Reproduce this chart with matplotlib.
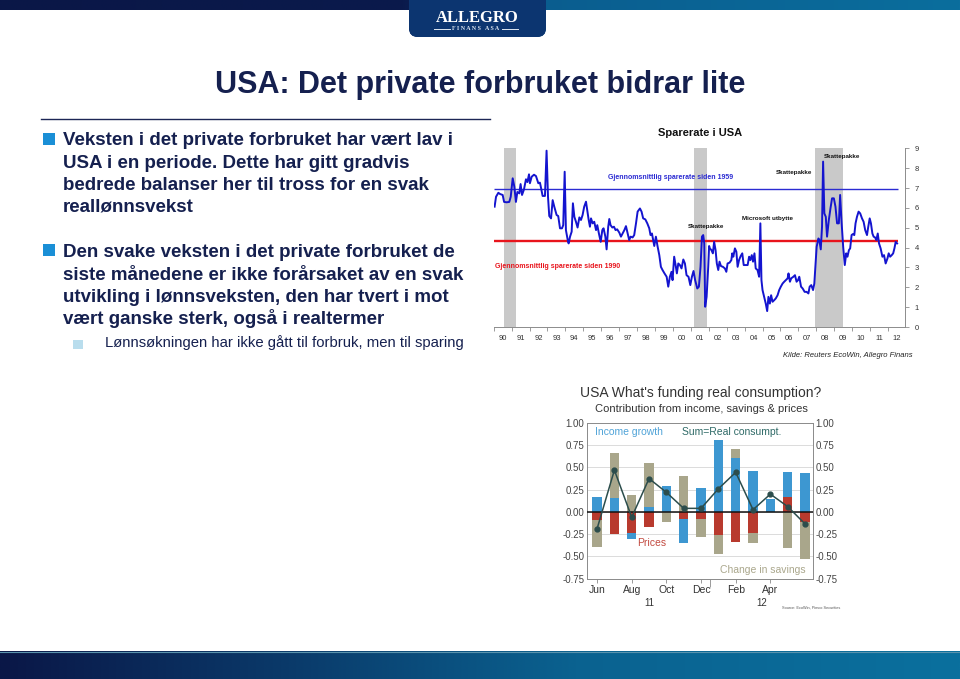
import numpy as np
import matplotlib.pyplot as plt
from matplotlib.patches import Rectangle, FancyBboxPatch
from matplotlib.colors import LinearSegmentedColormap
from matplotlib.ticker import FixedLocator, NullFormatter

W, H = 960, 679

# ---- top chart: savings rate USA ----
saving_year = [
    1990.05, 1990.13, 1990.26, 1990.35, 1990.50, 1990.58, 1990.72, 1990.87, 1990.95,
    1991.06, 1991.15, 1991.24, 1991.32, 1991.43, 1991.50, 1991.58, 1991.69, 1991.80, 1991.88, 1991.97,
    1992.02, 1992.12, 1992.25, 1992.36, 1992.49, 1992.58, 1992.62, 1992.73, 1992.86, 1992.95,
    1993.03, 1993.10, 1993.20, 1993.29, 1993.38, 1993.51, 1993.60, 1993.70, 1993.81, 1993.88, 1993.96,
    1994.03, 1994.13, 1994.18, 1994.26, 1994.35, 1994.42, 1994.50, 1994.59, 1994.68, 1994.78, 1994.87, 1994.96,
    1995.05, 1995.15, 1995.22, 1995.30, 1995.37, 1995.43, 1995.52, 1995.61, 1995.71, 1995.78, 1995.87, 1995.97,
    1996.06, 1996.13, 1996.23, 1996.30, 1996.39, 1996.45, 1996.52, 1996.62, 1996.71, 1996.80, 1996.89,
    1997.01, 1997.10, 1997.19, 1997.29, 1997.38, 1997.45, 1997.56, 1997.64, 1997.75, 1997.84, 1997.94,
    1998.03, 1998.16, 1998.25, 1998.34, 1998.46, 1998.57, 1998.68, 1998.75, 1998.83, 1998.90, 1998.96,
    1999.05, 1999.14, 1999.24, 1999.33, 1999.42, 1999.53, 1999.65, 1999.74, 1999.83, 1999.92, 1999.98,
    2000.07, 2000.15, 2000.22, 2000.30, 2000.39, 2000.48, 2000.58, 2000.67, 2000.76, 2000.87, 2000.97,
    2001.06, 2001.15, 2001.24, 2001.36, 2001.45, 2001.54, 2001.62, 2001.69, 2001.75, 2001.80, 2001.88, 2001.97,
    2002.02, 2002.06, 2002.15, 2002.23, 2002.30, 2002.38, 2002.45, 2002.53, 2002.60, 2002.68, 2002.79, 2002.90, 2002.98,
    2003.05, 2003.16, 2003.26, 2003.31, 2003.37, 2003.46, 2003.54, 2003.61, 2003.69, 2003.78, 2003.87, 2003.95,
    2004.06, 2004.17, 2004.25, 2004.32, 2004.40, 2004.47, 2004.55, 2004.62, 2004.72, 2004.81, 2004.88, 2004.94,
    2005.00, 2005.09, 2005.18, 2005.26, 2005.33, 2005.41, 2005.48, 2005.56, 2005.65, 2005.74, 2005.84, 2005.93,
    2006.02, 2006.12, 2006.21, 2006.30, 2006.40, 2006.45, 2006.53, 2006.60, 2006.72, 2006.81, 2006.90, 2006.98,
    2007.05, 2007.15, 2007.24, 2007.35, 2007.46, 2007.56, 2007.63, 2007.72, 2007.82, 2007.89, 2007.95,
    2008.02, 2008.12, 2008.17, 2008.25, 2008.32, 2008.38, 2008.45, 2008.53, 2008.60, 2008.70, 2008.79, 2008.88, 2008.98,
    2009.07, 2009.16, 2009.26, 2009.33, 2009.41, 2009.50, 2009.59, 2009.67, 2009.74, 2009.82, 2009.89, 2009.97,
    2010.04, 2010.12, 2010.19, 2010.27, 2010.36, 2010.45, 2010.55, 2010.64, 2010.73, 2010.83, 2010.90, 2010.98,
    2011.05, 2011.13, 2011.20, 2011.28, 2011.35, 2011.43, 2011.50, 2011.59, 2011.69, 2011.78, 2011.87, 2011.97,
    2012.04, 2012.12, 2012.21, 2012.29, 2012.36, 2012.43, 2012.51]
saving_rate = [
    6.06, 6.56, 6.76, 6.70, 6.65, 6.30, 6.28, 6.30, 6.56,
    7.49, 7.07, 6.30, 6.80, 6.73, 7.20, 6.65, 6.93, 7.44, 7.30, 7.69,
    7.24, 7.57, 7.67, 7.60, 7.24, 7.27, 7.10, 6.60, 6.60, 8.88,
    6.56, 5.59, 5.47, 6.39, 6.06, 5.64, 5.59, 4.97, 4.97, 5.13, 7.82,
    4.88, 4.38, 4.21, 4.55, 4.80, 6.23, 5.55, 5.30, 5.01, 5.52, 5.39, 5.64,
    6.06, 6.31, 5.89, 5.39, 5.05, 5.47, 5.22, 5.30, 4.88, 5.13, 4.71, 4.29,
    4.88, 4.97, 4.55, 3.91, 5.05, 5.44, 5.13, 5.01, 5.05, 4.88, 4.92,
    4.75, 4.55, 4.71, 4.88, 5.08, 4.80, 4.38, 4.55, 4.51, 4.63, 5.22,
    5.81, 5.97, 5.81, 5.47, 5.42, 5.22, 4.97, 4.63, 4.71, 4.38, 4.08,
    4.55, 4.08, 3.62, 3.03, 2.87, 2.70, 2.53, 2.03, 2.53, 2.78, 2.36,
    3.54, 3.12, 2.70, 3.20, 3.12, 2.95, 3.40, 3.20, 2.61, 2.53, 2.11,
    2.53, 2.82, 2.36, 1.94, 2.03, 3.03, 4.55, 4.63, 4.21, 1.02, 1.52, 3.03,
    4.08, 3.96, 3.87, 3.71, 4.29, 3.87, 3.20, 2.87, 3.29, 3.07, 3.03, 2.95, 2.78,
    3.20, 3.24, 3.37, 3.71, 3.54, 3.96, 3.79, 3.03, 3.37, 3.57, 3.71, 3.12,
    3.12, 3.12, 3.54, 3.37, 3.62, 3.29, 3.71, 2.95, 2.87, 2.53, 5.22, 2.36,
    1.86, 1.52, 1.18, 0.80, 1.52, 1.18, 1.60, 1.27, 1.35, 1.44, 1.60, 1.86,
    2.03, 2.19, 2.28, 2.36, 2.45, 2.70, 2.28, 2.45, 2.53, 2.61, 2.28, 2.36,
    2.53, 2.03, 1.94, 1.77, 1.77, 1.69, 2.03, 2.11, 1.86, 2.19, 3.03,
    4.04, 4.46, 4.38, 3.91, 5.05, 8.33, 5.72, 5.55, 4.55, 5.39, 5.97, 6.48, 6.48,
    6.06, 5.22, 5.22, 6.65, 5.30, 4.04, 3.12, 3.71, 3.54, 3.87, 3.96, 4.63,
    4.68, 4.63, 5.22, 5.55, 5.81, 5.72, 5.47, 5.30, 4.88, 4.63, 5.05, 5.47,
    5.22, 4.71, 4.55, 4.51, 4.38, 4.71, 4.21, 3.96, 3.54, 3.62, 3.20, 3.45,
    3.71, 3.54, 3.62, 3.71, 3.96, 4.29, 4.21]
avg_since_1959 = 6.95
avg_since_1990 = 4.35
recessions = [(1990.55, 1991.25), (2001.2, 2001.9), (2007.95, 2009.5)]
year_labels = ['90', '91', '92', '93', '94', '95', '96', '97', '98', '99', '00', '01',
               '02', '03', '04', '05', '06', '07', '08', '09', '10', '11', '12']
event_notes = [('Skattepakke', 2001.85, 5.08), ('Microsoft utbytte', 2005.3, 5.44),
               ('Skattepakke', 2006.77, 7.76), ('Skattepakke', 2009.42, 8.57)]

# ---- bottom chart: contributions to real consumption ----
months = ['Jun', 'Jul', 'Aug', 'Sep', 'Oct', 'Nov', 'Dec', 'Jan', 'Feb', 'Mar', 'Apr', 'May', 'Jun']
income = [0.165, 0.155, -0.06, 0.055, 0.29, -0.265, 0.27, 0.81, 0.605, 0.46, 0.145, 0.28, 0.44]
prices = [-0.096, -0.245, -0.24, -0.17, 0.0, -0.085, -0.077, -0.26, -0.335, -0.24, 0.0, 0.17, -0.115]
savings = [-0.30, 0.51, 0.195, 0.495, -0.115, 0.40, -0.205, -0.21, 0.105, -0.105, 0.0, -0.41, -0.41]
real_consumption = [-0.19, 0.47, -0.06, 0.375, 0.22, 0.04, 0.04, 0.26, 0.445, 0.025, 0.2, 0.06, -0.135]

bullet1 = ["Veksten i det private forbruket har vært lav i",
           "USA i en periode. Dette har gitt gradvis",
           "bedrede balanser her til tross for en svak",
           "reallønnsvekst"]
bullet2 = ["Den svake veksten i det private forbruket de",
           "siste månedene er ikke forårsaket av en svak",
           "utvikling i lønnsveksten, den har tvert i mot",
           "vært ganske sterk, også i realtermer"]
sub_bullet = "Lønnsøkningen har ikke gått til forbruk, men til sparing"

NAVY = '#15204f'

plt.rcParams['font.family'] = ['Liberation Sans', 'DejaVu Sans']


def rect(x0, y0, x1, y1):
    return [x0 / W, 1 - y1 / H, (x1 - x0) / W, (y1 - y0) / H]


def ftext(x, y, s, **kw):
    return fig.text(x / W, 1 - y / H, s, **kw)


def gradient(ax, stops):
    cmap = LinearSegmentedColormap.from_list('g', stops)
    return ax.imshow(np.linspace(0, 1, 512)[None, :], aspect='auto', cmap=cmap,
                     extent=[0, 1, 0, 1], interpolation='bicubic')


fig = plt.figure(figsize=(9.6, 6.79), dpi=100)

# header band
hb = fig.add_axes(rect(0, 0, W, 10))
hb.axis('off')
gradient(hb, [(0, '#0a1747'), (0.42, '#0a1a4c'), (0.56, '#0a5d8f'), (1, '#0b6e9d')])

# logo tab
lg = fig.add_axes(rect(400, 0, 555, 42), zorder=5)
lg.set_xlim(400, 555)
lg.set_ylim(42, 0)
lg.axis('off')
tab = FancyBboxPatch((409, -12), 137, 49, boxstyle='round,pad=0,rounding_size=9',
                     fc='#0c3570', ec='none')
lg.add_patch(tab)
im = lg.imshow(np.linspace(0, 1, 256)[None, :], aspect='auto',
               cmap=LinearSegmentedColormap.from_list('t', ['#0b2462', '#0c3f7c', '#0a5486']),
               extent=[409, 546, 37, -12], interpolation='bicubic')
im.set_clip_path(tab)
serif = ['Liberation Serif', 'DejaVu Serif']
lg.text(477, 22, 'ALLEGRO', color='white', fontsize=12, weight='bold', ha='center',
        va='baseline', family=serif)
lg.text(476, 30.5, 'F I N A N S   A S A', color='#dfe8f2', fontsize=4.3, ha='center',
        va='baseline', family=serif, weight='bold')
lg.plot([434, 450], [28.5, 28.5], color='#dfe8f2', lw=0.7)
lg.plot([502, 518], [28.5, 28.5], color='#dfe8f2', lw=0.7)

# footer band
fb = fig.add_axes(rect(0, 651, W, H))
fb.axis('off')
gradient(fb, [(0, '#0a1747'), (0.3, '#0a3a6a'), (0.6, '#0a6290'), (1, '#0b709e')])
fig.add_artist(plt.Line2D([0, 1], [1 - 651.5 / H] * 2, color='#5a93ad', lw=0.8))

# title and rule
ftext(480, 93, 'USA: Det private forbruket bidrar lite', fontsize=22, weight='bold',
      color=NAVY, ha='center', va='baseline')
fig.add_artist(plt.Line2D([41 / W, 490 / W], [1 - 119 / H] * 2, color='#1c2656', lw=1.0))

# bullets
for top, lines, bases in [(133, bullet1, [145, 167.5, 190, 212]),
                          (244, bullet2, [257, 279.5, 302, 324])]:
    fig.add_artist(Rectangle((43 / W, 1 - (top + 12) / H), 12 / W, 12 / H,
                             transform=fig.transFigure, fc='#1a8fd6', ec='none'))
    for s, b in zip(lines, bases):
        ftext(63, b, s, fontsize=13.5, weight='bold', color=NAVY, va='baseline')
fig.add_artist(Rectangle((73 / W, 1 - 349 / H), 10 / W, 9 / H,
                         transform=fig.transFigure, fc='#b9dded', ec='none'))
ftext(105, 347.5, sub_bullet, fontsize=10.7, color=NAVY, va='baseline')

# ---- top chart ----
ax1 = fig.add_axes(rect(493.7, 148.3, 905, 327))
ax1.set_xlim(1990, 2012.95)
ax1.set_ylim(0, 9)
for a, b in recessions:
    ax1.axvspan(a, b, color='#c9c9c9', lw=0, zorder=0)
ax1.hlines(avg_since_1959, 1990, 2012.55, color='#2b2bd2', lw=1.0, zorder=2)
ax1.hlines(avg_since_1990, 1990, 2012.55, color='#e8141c', lw=1.7, zorder=2)
ax1.plot(saving_year, saving_rate, color='#1414cf', lw=1.4, zorder=3)
for side in ['left', 'top']:
    ax1.spines[side].set_visible(False)
for side in ['right', 'bottom']:
    ax1.spines[side].set_color('#8c8c8c')
    ax1.spines[side].set_linewidth(0.7)
ax1.yaxis.tick_right()
ax1.set_yticks(range(10))
ax1.tick_params(axis='y', labelsize=5.5, length=3, width=0.6, color='#8c8c8c',
                labelcolor='#333333', pad=4)
ax1.xaxis.set_major_locator(FixedLocator(range(1990, 2013)))
ax1.xaxis.set_major_formatter(NullFormatter())
ax1.xaxis.set_minor_locator(FixedLocator([y + 0.5 for y in range(1990, 2013)]))
ax1.set_xticklabels(year_labels, minor=True)
ax1.tick_params(axis='x', which='major', length=3, width=0.6, color='#8c8c8c')
ax1.tick_params(axis='x', which='minor', length=0, labelsize=5.5, labelcolor='#333333', pad=6)
ax1.text(1999.85, 7.55, 'Gjennomsnittlig sparerate siden 1959', color='#2b2bd2',
         fontsize=5, weight='bold', ha='center', va='center')
ax1.text(1990.07, 3.07, 'Gjennomsnittlig sparerate siden 1990', color='#e8141c',
         fontsize=5, weight='bold', ha='left', va='center')
for s, x, y in event_notes:
    ax1.text(x, y, s, fontsize=4.5, weight='bold', color='#111111', ha='center', va='center')
ftext(700, 136, 'Sparerate i USA', fontsize=8, weight='bold', color='#111111', ha='center',
      va='baseline')
ftext(913, 357, 'Kilde: Reuters EcoWin, Allegro Finans', fontsize=5.5, style='italic',
      color='#222222', ha='right', va='baseline')

# ---- bottom chart ----
ax2 = fig.add_axes(rect(587, 423, 813, 578.6))
ax2.set_xlim(-0.58, 12.46)
ax2.set_ylim(-0.75, 1.0)
for v in np.arange(-0.5, 1.0, 0.25):
    ax2.axhline(v, color='#d6d6d6', lw=0.6, zorder=0)
x = np.arange(len(months))
pos_base = np.zeros(len(months))
neg_base = np.zeros(len(months))
for vals, col in [(prices, '#b83a2e'), (income, '#3d97d1'), (savings, '#a9a68b')]:
    vals = np.array(vals)
    base = np.where(vals >= 0, pos_base, neg_base)
    ax2.bar(x, vals, 0.55, bottom=base, color=col, lw=0, zorder=2)
    pos_base = pos_base + np.where(vals > 0, vals, 0)
    neg_base = neg_base + np.where(vals < 0, vals, 0)
ax2.axhline(0, color='#111111', lw=1.1, zorder=3)
ax2.plot(x, real_consumption, color='#2c4d4c', lw=1.1, marker='o', ms=3.5, zorder=4)
for sp in ax2.spines.values():
    sp.set_color('#8a8a8a')
    sp.set_linewidth(0.7)
yt = np.arange(-0.75, 1.01, 0.25)
ax2.set_yticks(yt)
ax2.set_yticklabels(['%.2f' % v for v in yt])
ax2.tick_params(axis='y', which='both', left=True, right=True, labelleft=True,
                labelright=True, labelsize=7, labelcolor='#444444', length=0, pad=2)
ax2.set_xticks(x[0:12:2])
ax2.set_xticklabels(months[0:12:2])
ax2.set_xticks([6.5], minor=True)
ax2.tick_params(axis='x', which='major', labelsize=7.5, labelcolor='#333333', length=3,
                width=0.6, color='#8a8a8a', pad=1.5)
ax2.tick_params(axis='x', which='minor', length=6, width=0.6, color='#8a8a8a')
ax2.text(3, -1.03, '11', fontsize=7, color='#333333', ha='center', va='center')
ax2.text(9.5, -1.03, '12', fontsize=7, color='#333333', ha='center', va='center')
ax2.text(-0.1, 0.9, 'Income growth', color='#4fa3d8', fontsize=7.5, va='center')
ax2.text(4.9, 0.9, 'Sum=Real consumpt.', color='#2f6a67', fontsize=7.5, va='center')
ax2.text(2.3, -0.35, 'Prices', color='#c24a40', fontsize=7.5, va='center')
ax2.text(7.1, -0.65, 'Change in savings', color='#aaa78c', fontsize=7.5, va='center')
ftext(701, 397, "USA What's funding real consumption?", fontsize=10, color='#333333',
      ha='center', va='baseline')
ftext(701, 412, 'Contribution from income, savings & prices', fontsize=8, color='#333333',
      ha='center', va='baseline')
ftext(840, 609, 'Source: EcoWin, Pimco Securities', fontsize=2.8, color='#555555',
      ha='right', va='baseline')

fig.savefig('out.png', dpi=100)
